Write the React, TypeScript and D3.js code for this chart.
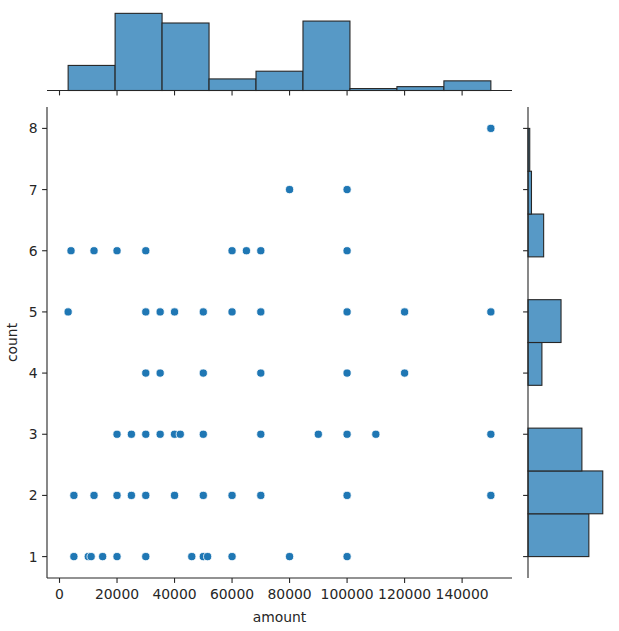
import React from "react";
import * as d3 from "d3";

// Unique scatter positions and how many rows share each position
const pointAmount = [
  150000,
  80000, 100000,
  4000, 12000, 20000, 30000, 60000, 65000, 70000, 100000,
  3000, 30000, 35000, 40000, 50000, 60000, 70000, 100000, 120000, 150000,
  30000, 35000, 50000, 70000, 100000, 120000,
  20000, 25000, 30000, 35000, 40000, 42000, 50000, 70000, 90000, 100000, 110000, 150000,
  5000, 12000, 20000, 25000, 30000, 40000, 50000, 60000, 70000, 100000, 150000,
  5000, 10000, 11000, 15000, 20000, 30000, 46000, 50000, 51500, 60000, 80000, 100000,
];
const pointCount = [
  8,
  7, 7,
  6, 6, 6, 6, 6, 6, 6, 6,
  5, 5, 5, 5, 5, 5, 5, 5, 5, 5,
  4, 4, 4, 4, 4, 4,
  3, 3, 3, 3, 3, 3, 3, 3, 3, 3, 3, 3,
  2, 2, 2, 2, 2, 2, 2, 2, 2, 2, 2,
  1, 1, 1, 1, 1, 1, 1, 1, 1, 1, 1, 1,
];
const pointRepeat = [
  1,
  1, 1,
  1, 1, 2, 1, 1, 1, 1, 1,
  1, 3, 1, 1, 3, 1, 1, 5, 1, 2,
  1, 1, 2, 1, 2, 1,
  3, 2, 4, 1, 3, 1, 5, 2, 1, 7, 1, 1,
  2, 2, 4, 2, 6, 3, 7, 2, 3, 11, 1,
  2, 2, 1, 1, 4, 5, 1, 8, 1, 1, 1, 8,
];

const amountTicks = [0, 20000, 40000, 60000, 80000, 100000, 120000, 140000];
const countTicks = [1, 2, 3, 4, 5, 6, 7, 8];

const rows: { amount: number; count: number }[] = [];
pointAmount.forEach((a, i) => {
  for (let k = 0; k < pointRepeat[i]; k++) rows.push({ amount: a, count: pointCount[i] });
});

const W = 619;
const H = 631;
const L = 47, R = 512, T = 107, B = 578;
const topBase = 90.5, topTop = 9.5;
const rightBase = 528, rightEnd = 606.5;

const BLUE = "#1f77b4";
const HIST_FILL = "#5799c6";
const EDGE = "#262626";
const FONT = "DejaVu Sans, sans-serif";

export default function App() {
  const aExt = d3.extent(rows, (d) => d.amount) as [number, number];
  const cExt = d3.extent(rows, (d) => d.count) as [number, number];
  const aPad = (aExt[1] - aExt[0]) * 0.05;
  const cPad = (cExt[1] - cExt[0]) * 0.05;

  const x = d3.scaleLinear().domain([aExt[0] - aPad, aExt[1] + aPad]).range([L, R]);
  const y = d3.scaleLinear().domain([cExt[0] - cPad, cExt[1] + cPad]).range([B, T]);

  const aStep = (aExt[1] - aExt[0]) / 9;
  const aBins = d3
    .bin<{ amount: number; count: number }, number>()
    .value((d) => d.amount)
    .domain(aExt)
    .thresholds(d3.range(1, 9).map((i) => aExt[0] + i * aStep))(rows);

  const cStep = (cExt[1] - cExt[0]) / 10;
  const cBins = d3
    .bin<{ amount: number; count: number }, number>()
    .value((d) => d.count)
    .domain(cExt)
    .thresholds(d3.range(1, 10).map((i) => cExt[0] + i * cStep))(rows);

  const aMax = d3.max(aBins, (b) => b.length) || 1;
  const cMax = d3.max(cBins, (b) => b.length) || 1;
  const hTop = d3.scaleLinear().domain([0, aMax * 1.05]).range([topBase, topTop]);
  const hRight = d3.scaleLinear().domain([0, cMax * 1.05]).range([rightBase, rightEnd]);

  // unique positions only for drawing the dots (duplicates overlap exactly)
  const uniquePts = pointAmount.map((a, i) => ({ amount: a, count: pointCount[i] }));

  const tickLen = 4.9;
  const fs = 13.9;

  return (
    <svg
      width={W}
      height={H}
      style={{ position: "absolute", left: 0, top: 0, background: "#fff" }}
      fontFamily={FONT}
    >
      <rect x={0} y={0} width={W} height={H} fill="#fff" />

      {/* top marginal histogram */}
      {aBins.map((b, i) => (
        <rect
          key={"tb" + i}
          x={x(b.x0!)}
          y={hTop(b.length)}
          width={x(b.x1!) - x(b.x0!)}
          height={topBase - hTop(b.length)}
          fill={HIST_FILL}
          stroke={EDGE}
          strokeWidth={1.1}
        />
      ))}
      <line x1={L} x2={R} y1={topBase} y2={topBase} stroke={EDGE} strokeWidth={1.1} />
      {amountTicks.map((t) => (
        <line key={"tt" + t} x1={x(t)} x2={x(t)} y1={topBase} y2={topBase + tickLen} stroke={EDGE} strokeWidth={1.1} />
      ))}

      {/* right marginal histogram */}
      {cBins.map((b, i) => (
        <rect
          key={"rb" + i}
          x={rightBase}
          y={y(b.x1!)}
          width={hRight(b.length) - rightBase}
          height={y(b.x0!) - y(b.x1!)}
          fill={HIST_FILL}
          stroke={EDGE}
          strokeWidth={1.1}
        />
      ))}
      <line x1={rightBase} x2={rightBase} y1={T} y2={B} stroke={EDGE} strokeWidth={1.1} />
      {countTicks.map((t) => (
        <line key={"rt" + t} x1={rightBase - tickLen} x2={rightBase} y1={y(t)} y2={y(t)} stroke={EDGE} strokeWidth={1.1} />
      ))}

      {/* scatter */}
      {uniquePts.map((d, i) => (
        <circle
          key={"p" + i}
          cx={x(d.amount)}
          cy={y(d.count)}
          r={4.1}
          fill={BLUE}
          stroke="#fff"
          strokeWidth={0.8}
        />
      ))}

      {/* main axes spines */}
      <line x1={L} x2={L} y1={T} y2={B} stroke={EDGE} strokeWidth={1.1} />
      <line x1={L} x2={R} y1={B} y2={B} stroke={EDGE} strokeWidth={1.1} />

      {/* x ticks */}
      {amountTicks.map((t) => (
        <g key={"xt" + t}>
          <line x1={x(t)} x2={x(t)} y1={B} y2={B + tickLen} stroke={EDGE} strokeWidth={1.1} />
          <text x={x(t)} y={B + 20.5} textAnchor="middle" fontSize={fs} fill="#262626">
            {t}
          </text>
        </g>
      ))}
      <text x={(L + R) / 2} y={B + 44} textAnchor="middle" fontSize={fs} fill="#262626">
        amount
      </text>

      {/* y ticks */}
      {countTicks.map((t) => (
        <g key={"yt" + t}>
          <line x1={L - tickLen} x2={L} y1={y(t)} y2={y(t)} stroke={EDGE} strokeWidth={1.1} />
          <text x={L - 9.5} y={y(t) + 5} textAnchor="end" fontSize={fs} fill="#262626">
            {t}
          </text>
        </g>
      ))}
      <text
        transform={`translate(${17},${(T + B) / 2}) rotate(-90)`}
        textAnchor="middle"
        fontSize={fs}
        fill="#262626"
      >
        count
      </text>
    </svg>
  );
}
